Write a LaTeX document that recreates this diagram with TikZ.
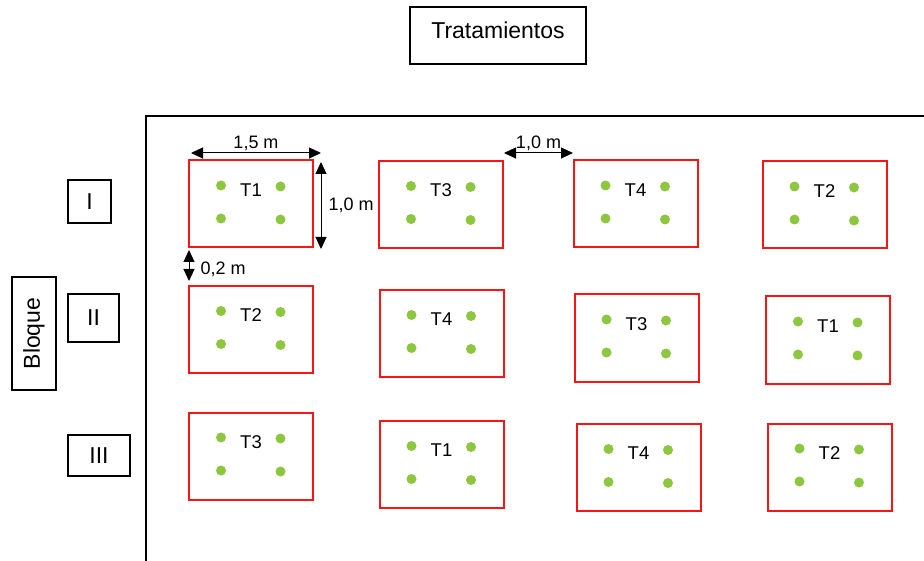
\documentclass[tikz,border=0pt]{standalone}
\usepackage{fontspec}
\setmainfont{Liberation Sans}
\usetikzlibrary{arrows.meta}
\definecolor{dotgreen}{RGB}{141,198,63}
\definecolor{plotred}{RGB}{250,20,20}

\begin{document}
\begin{tikzpicture}[x=1pt,y=-1pt,
			>={Triangle[length=12pt,width=11pt]},
			plotbox/.style={
				draw=plotred,
				line width=2pt,
				minimum width=124pt,
				minimum height=87pt,
				inner sep=0pt},
			plotlabel/.style={
				inner sep=0pt,
				font=\fontsize{18.5}{20}\selectfont},
			labelbox/.style={
				draw,
				line width=1.3pt,
				inner sep=0pt,
				font=\fontsize{23}{25}\selectfont},
			dimline/.style={<->,line width=1pt},
			dimlabel/.style={
				inner sep=0pt,
				font=\fontsize{18}{20}\selectfont}]
			
			\useasboundingbox (0,0) rectangle (924,561);
			
			% field border
			\draw[line width=2pt] (924,116) -- (146,116) -- (146,561);
			
			\node (trat)[labelbox,minimum width=176pt,minimum height=57pt,text depth=11pt] at (498,35.5){Tratamientos};
			
			\node (bloque)[labelbox,rotate=90,minimum width=113pt,minimum height=44pt] at (34,333.5){Bloque};
			
			\node (b1)[labelbox,minimum width=43pt,minimum height=43pt] at (89.5,201.5){I};
			
			\node (b2)[labelbox,minimum width=51pt,minimum height=48pt] at (93.5,318){II};
			
			\node (b3)[labelbox,minimum width=62pt,minimum height=41pt] at (99,455.5){III};
			
			% plots
			\foreach \name/\x/\y/\t in {
					p11/251/204/T1, p12/441/204.5/T3, p13/635.5/204/T4, p14/824.5/205/T2,
					p21/251/329.5/T2, p22/441.5/333.5/T4, p23/636.5/338/T3, p24/828/340/T1,
					p31/251/456/T3, p32/441.5/464.5/T1, p33/638.5/467.5/T4, p34/829.5/467/T2}{
				\node (\name)[plotbox] at (\x,\y){};
				\node (\name-t)[plotlabel] at ([yshift=14pt]\name.center){\t};
				\foreach \dx/\dy in {-30/18.5, 29.5/17.5, -30/-14.5, 29.5/-15.5}
					\fill[dotgreen] ([xshift=\dx pt,yshift=\dy pt]\name.center) circle (5pt);
			}
			
			% dimensions
			\coordinate (w0) at (191,153);
			\coordinate (w1) at (321,153);
			\coordinate (h0) at (321,162);
			\coordinate (h1) at (321,249);
			\coordinate (g0) at (504,153);
			\coordinate (g1) at (573,153);
			\coordinate (s0) at (189,250);
			\coordinate (s1) at (189,281);
			
			\draw[dimline] (w0) -- node (wl)[dimlabel,above=2pt]{1,5 m} (w1);
			
			\draw[dimline] (h0) -- node (hl)[dimlabel,right=7pt]{1,0 m} (h1);
			
			\draw[dimline] (g0) -- node (gl)[dimlabel,above=2pt]{1,0 m} (g1);
			
			\draw[dimline] (s0) -- node (sl)[dimlabel,right=11pt,yshift=-4pt]{0,2 m} (s1);
			
		\end{tikzpicture}
\end{document}
